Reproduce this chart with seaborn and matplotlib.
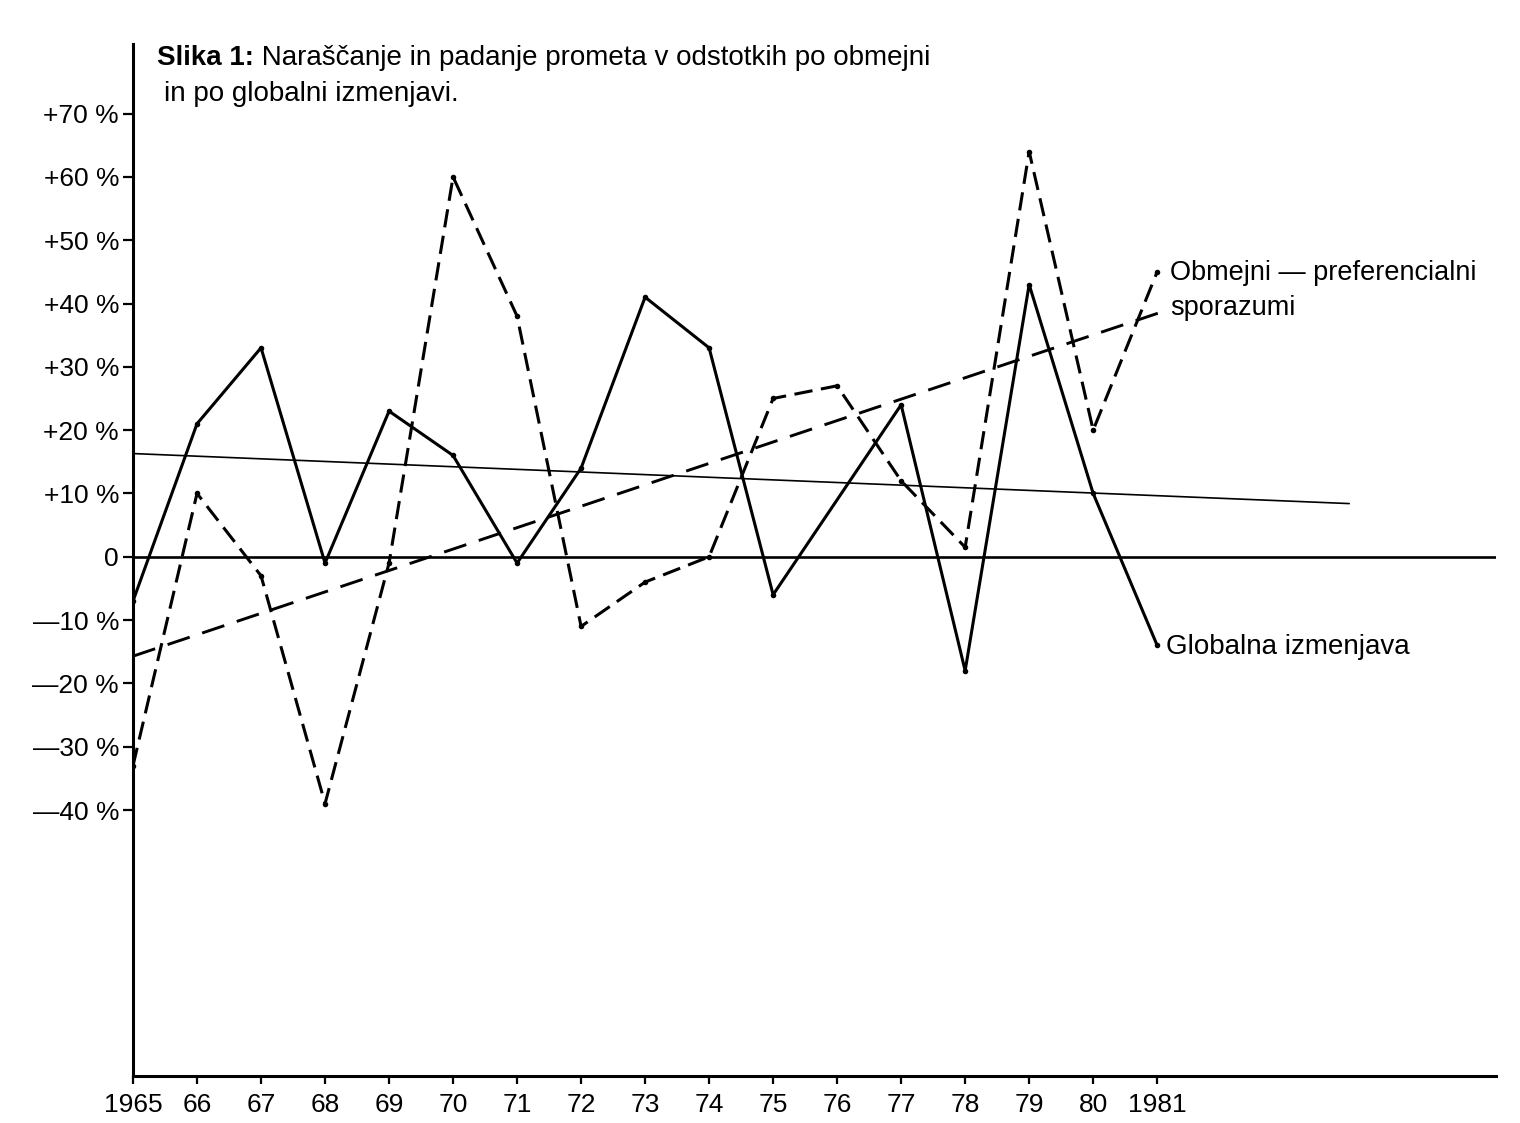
"""
Slika 1 - growth and decline of trade (in percent), border vs. global exchange
Redrawn from a scanned page (scan rotation removed)
"""

import matplotlib
matplotlib.use("Agg")
import matplotlib.pyplot as plt
import seaborn as sns

# ============================================================================
# DATA
# ============================================================================

years = list(range(1965, 1982))
year_labels = ["1965", "66", "67", "68", "69", "70", "71", "72", "73",
               "74", "75", "76", "77", "78", "79", "80", "1981"]

# Globalna izmenjava (solid line)
globalna = [-7, 21, 33, -1, 23, 16, -1, 14, 41, 33, -6, 9, 24, -18, 43, 10, -14]

# Obmejni - preferencialni sporazumi (dashed line)
obmejni = [-33, 10, -3, -39, -1, 60, 38, -11, -4, 0, 25, 27, 12, 1.5, 64, 20, 45]

# straight trend lines drawn on the page (end points)
obmejni_trend_x = [1965, 1981.2]
obmejni_trend_y = [-15.7, 39.1]
globalna_trend_x = [1965, 1984]
globalna_trend_y = [16.3, 8.4]

y_ticks = [70, 60, 50, 40, 30, 20, 10, 0, -10, -20, -30, -40]
y_tick_labels = ["+70 %", "+60 %", "+50 %", "+40 %", "+30 %", "+20 %",
                 "+10 %", "0", "\u201410 %", "\u201420 %", "\u201430 %",
                 "\u201440 %"]

TITLE_BOLD = "Slika 1:"
TITLE_REST = " Naraščanje in padanje prometa v odstotkih po obmejni"
TITLE_LINE2 = "in po globalni izmenjavi."

# ============================================================================
# PLOT
# ============================================================================

sns.set_style("white")
plt.rcParams["font.family"] = ["Liberation Sans", "DejaVu Sans"]
plt.rcParams["text.color"] = "black"
plt.rcParams["axes.labelcolor"] = "black"
plt.rcParams["xtick.color"] = "black"
plt.rcParams["ytick.color"] = "black"

fig = plt.figure(figsize=(15.2, 11.23), dpi=100)
ax = fig.add_axes([0.0875, 0.0419, 0.897, 0.919])

# zero reference line
ax.axhline(0, color="black", lw=1.9, zorder=2)

# trend lines
sns.lineplot(x=globalna_trend_x, y=globalna_trend_y, ax=ax, color="black",
             lw=1.2, errorbar=None)
sns.lineplot(x=obmejni_trend_x, y=obmejni_trend_y, ax=ax, color="black",
             lw=2.1, linestyle=(0, (8, 4.5)), errorbar=None)

# series
solid_marks = [i for i in range(len(years)) if years[i] != 1976]
sns.lineplot(x=years, y=globalna, ax=ax, color="black", lw=2.2,
             marker="o", markersize=4, markeredgewidth=0,
             markevery=solid_marks, errorbar=None)
sns.lineplot(x=years, y=obmejni, ax=ax, color="black", lw=2.2,
             linestyle=(0, (6, 2.8)), marker="o", markersize=4,
             markeredgewidth=0, errorbar=None)

# series labels
ax.text(1981.2, 44.8, "Obmejni \u2014 preferencialni", fontsize=19.5,
        ha="left", va="center")
ax.text(1981.2, 39.3, "sporazumi", fontsize=19.5, ha="left", va="center")
ax.text(1981.13, -14.3, "Globalna izmenjava", fontsize=20,
        ha="left", va="center")

# axes
ax.set_xlim(1965, 1986.3)
ax.set_ylim(-82, 81)
ax.set_xticks(years)
ax.set_xticklabels(year_labels, fontsize=19)
ax.set_yticks(y_ticks)
ax.set_yticklabels(y_tick_labels, fontsize=19)
ax.tick_params(axis="y", direction="out", length=7, width=1.6, pad=3,
               colors="black", left=True)
ax.tick_params(axis="x", direction="out", length=6, width=1.6, pad=6,
               colors="black", bottom=True)
for side in ["top", "right"]:
    ax.spines[side].set_visible(False)
for side in ["left", "bottom"]:
    ax.spines[side].set_color("black")
    ax.spines[side].set_linewidth(2.2)
ax.set_xlabel("")
ax.set_ylabel("")

# title: bold prefix, regular rest
t1 = fig.text(157 / 1520, 1 - 58 / 1123, TITLE_BOLD, fontsize=20,
              fontweight="bold", ha="left", va="center")
ax.annotate(TITLE_REST, xy=(1, 0), xycoords=t1, fontsize=20,
            ha="left", va="bottom", annotation_clip=False)
fig.text(164 / 1520, 1 - 94 / 1123, TITLE_LINE2, fontsize=20,
         ha="left", va="center")

fig.savefig("out.png", dpi=100)
